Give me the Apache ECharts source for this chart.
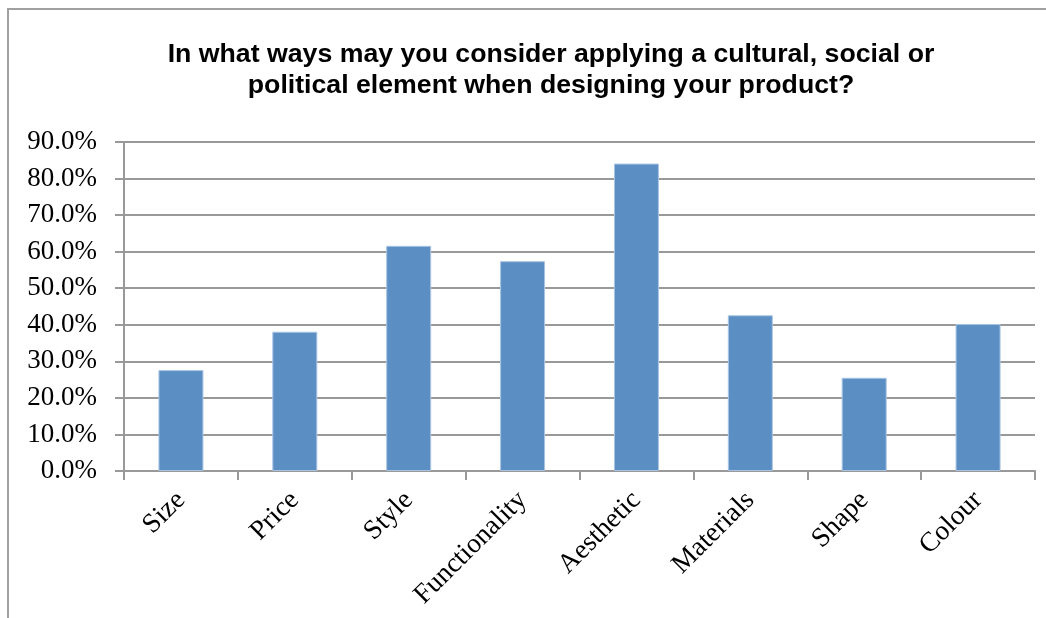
<!DOCTYPE html>
<html>
<head>
<meta charset="utf-8">
<script src="https://cdn.jsdelivr.net/npm/echarts@6/dist/echarts.min.js"></script>
<style>
html,body{margin:0;padding:0;background:#fff;}
#chart{width:1046px;height:618px;}
</style>
</head>
<body>
<div id="chart"></div>
<script>
const categories = ["Size","Price","Style","Functionality","Aesthetic","Materials","Shape","Colour"];
const values = [27.6, 38.1, 61.6, 57.4, 84.1, 42.6, 25.5, 40.2];
const titleLines = ["In what ways may you consider applying a cultural, social or", "political element when designing your product?"];
const yMin = 0, yMax = 90, yStep = 10;

const chart = echarts.init(document.getElementById('chart'));
chart.setOption({
  animation: false,
  backgroundColor: '#ffffff',
  graphic: [{
    type: 'rect', silent: true, z: -1,
    shape: {x: 8, y: 9, width: 1200, height: 800},
    style: {fill: 'none', stroke: '#a0a0a0', lineWidth: 2}
  }],
  title: {
    text: titleLines.join('\n'),
    left: 546, top: 34, textAlign: 'center',
    textStyle: {fontFamily: 'Liberation Sans, Arial, sans-serif', fontWeight: 'bold', fontSize: 26.7, color: '#000', lineHeight: 31}
  },
  grid: {left: 124, right: 11, top: 142, bottom: 147, containLabel: false},
  xAxis: {
    type: 'category', data: categories, boundaryGap: true,
    axisLine: {lineStyle: {color: '#999', width: 2}},
    axisTick: {show: true, length: 9, interval: 0, lineStyle: {color: '#999', width: 2}},
    axisLabel: {interval: 0, rotate: 45, margin: 25, fontFamily: 'Liberation Serif, Times New Roman, serif', fontSize: 27.5, color: '#000'},
    splitLine: {show: false}
  },
  yAxis: {
    type: 'value', min: yMin, max: yMax, interval: yStep,
    axisLine: {show: true, lineStyle: {color: '#999', width: 2}},
    axisTick: {show: true, length: 9, lineStyle: {color: '#999', width: 2}},
    axisLabel: {margin: 27, formatter: v => v.toFixed(1) + '%', fontFamily: 'Liberation Serif, Times New Roman, serif', fontSize: 27, color: '#000'},
    splitLine: {show: true, lineStyle: {color: '#999', width: 2}}
  },
  series: [{
    type: 'bar', data: values, barWidth: 45,
    itemStyle: {color: '#5b8fc4', borderColor: '#a9c4e2', borderWidth: 1}
  }]
});
</script>
</body>
</html>
